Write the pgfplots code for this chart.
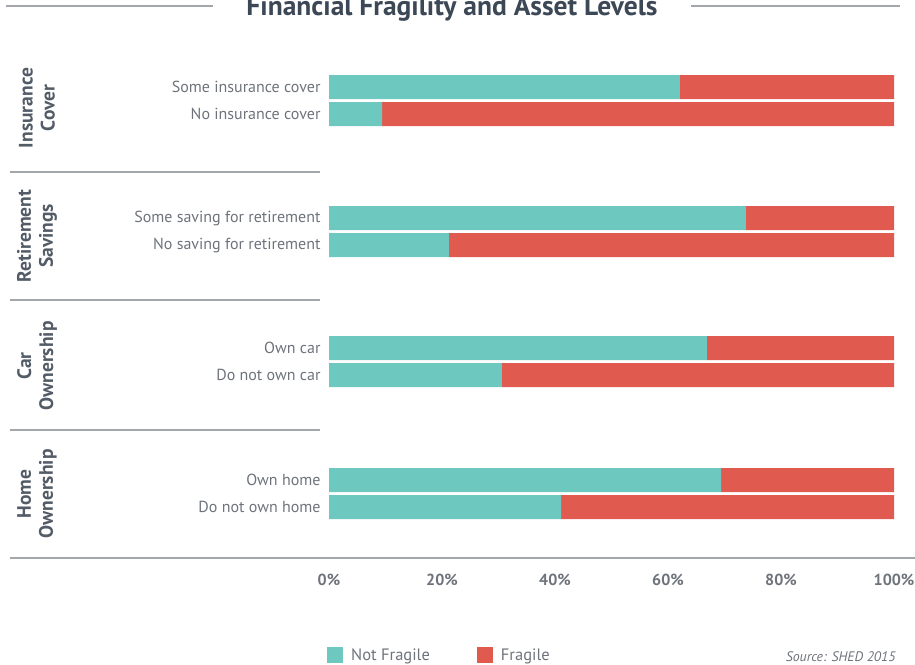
\documentclass[border=0pt]{standalone}
\usepackage{fontspec}
\setmainfont{PT Sans}
\usepackage{pgfplots}
\pgfplotsset{compat=1.18}
\definecolor{teal1}{HTML}{6DC8BF}
\definecolor{red1}{HTML}{E05A50}
\definecolor{labgray}{HTML}{6E737B}
\definecolor{darkgray1}{HTML}{525B66}
\definecolor{titlegray}{HTML}{3D4856}
\definecolor{rulegray}{HTML}{A3A7AC}
\begin{document}
\begin{tikzpicture}
% title and rules
\draw[rulegray, line width=1.2pt] (6pt,-6pt) -- (213pt,-6pt);
\draw[rulegray, line width=1.2pt] (691pt,-6pt) -- (900pt,-6pt);
\node[anchor=base, text=titlegray, font=\bfseries\fontsize{27.5}{30}\selectfont] at (452pt,-15pt) {Financial Fragility and Asset Levels};
% group separators
\foreach \yy in {172,300,430} {
  \draw[rulegray, line width=1.5pt] (10pt,-\yy pt) -- (320pt,-\yy pt);
}
\draw[rulegray, line width=1.5pt] (10pt,-558pt) -- (915pt,-558pt);
% group labels
\begin{scope}[every node/.style={rotate=90, align=center, text=darkgray1, font=\bfseries\fontsize{19.5}{22}\selectfont}]
\node at (37pt,-108pt) {Insurance\\Cover};
\node at (37pt,-236pt) {Retirement\\Savings};
\node at (37pt,-366pt) {Car\\Ownership};
\node at (37pt,-494pt) {Home\\Ownership};
\end{scope}
\begin{axis}[
  at={(329pt,-558pt)}, anchor=south west,
  scale only axis, width=565pt, height=518pt,
  xbar stacked, bar width=24pt,
  xmin=0, xmax=100, ymin=40, ymax=558, y dir=reverse,
  axis line style={draw=none}, tick style={draw=none},
  ytick={87,114,218,245,348,375,480,507},
  yticklabels={Some insurance cover,No insurance cover,Some saving for retirement,No saving for retirement,Own car,Do not own car,Own home,Do not own home},
  yticklabel style={font=\fontsize{16}{18}\selectfont, text=labgray, xshift=-5pt},
  xtick={0,20,40,60,80,100},
  xticklabel={\pgfmathprintnumber{\tick}\%},
  xticklabel style={font=\bfseries\fontsize{16}{18}\selectfont, text=labgray, yshift=-13pt},
  /pgf/number format/assume math mode=true,
  legend style={at={(0,0)}, anchor=west, xshift=-5pt, yshift=-97pt, draw=none, fill=none,
    font=\fontsize{16.5}{18}\selectfont, text=labgray,
    /tikz/every odd column/.append style={column sep=6pt},
    /tikz/every even column/.append style={column sep=45pt}},
  legend columns=2,
]
\addplot[fill=teal1, draw=none, legend image code/.code={\fill[teal1] (0pt,-8pt) rectangle (16pt,8pt);}]
  coordinates {(62.1,87) (9.4,114) (73.8,218) (21.2,245) (66.9,348) (30.6,375) (69.4,480) (41.1,507)};
\addlegendentry{Not Fragile}
\addplot[fill=red1, draw=none, legend image code/.code={\fill[red1] (0pt,-8pt) rectangle (16pt,8pt);}]
  coordinates {(37.9,87) (90.6,114) (26.2,218) (78.8,245) (33.1,348) (69.4,375) (30.6,480) (58.9,507)};
\addlegendentry{Fragile}
\end{axis}
\node[anchor=east, text=labgray, font=\itshape\fontsize{13.8}{15}\selectfont] at (899pt,-657pt) {Source: SHED 2015};
\pgfresetboundingbox
\path (0,0) rectangle (915pt,-664pt);
\end{tikzpicture}
\end{document}
